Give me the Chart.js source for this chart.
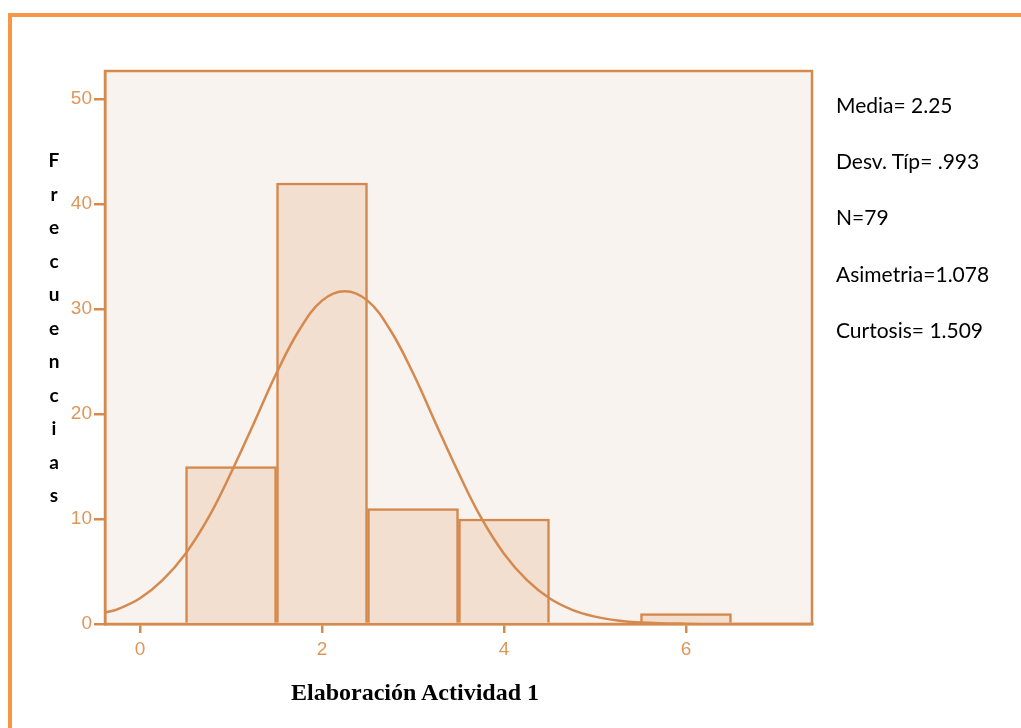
<!DOCTYPE html>
<html>
<head>
<meta charset="utf-8">
<script src="https://cdn.jsdelivr.net/npm/chart.js@4"></script>
<style>
  body { margin: 0; background: #fff; width: 1021px; height: 728px; overflow: hidden; position: relative; }
  #frame { position: absolute; left: 8px; top: 13px; right: 0; bottom: 0; border-top: 4px solid #F79646; border-left: 4px solid #F79646; }
  #chart { position: absolute; left: 0; top: 0; }
  .ytitle { position: absolute; left: 44px; top: 143px; width: 20px; font: bold 19px Lato, sans-serif; text-align: center; line-height: 33.5px; color: #000; }
  .stats { position: absolute; left: 836px; top: 77px; font: 21px Lato, sans-serif; color: #000; line-height: 56.2px; }
  .xtitle { position: absolute; left: 0; width: 830px; top: 677px; text-align: center; font: bold 24px "Liberation Serif", serif; color: #000; line-height: 30px; }
</style>
</head>
<body>
<div id="frame"></div>
<canvas id="chart" width="1021" height="728"></canvas>
<div class="ytitle" id="ytitle"></div>
<div class="stats" id="stats"></div>
<div class="xtitle">Elaboración Actividad 1</div>
<script>
// histogram bins (centres) and their counts
const binCentres = [1, 2, 3, 4, 6];
const frequencies = [15, 42, 11, 10, 1];

// fitted normal curve
const curveX = [-0.385, -0.25, 0, 0.25, 0.5, 0.75, 1, 1.25, 1.5, 1.75, 2, 2.25, 2.5, 2.75, 3, 3.25, 3.5, 3.75, 4, 4.25, 4.5, 4.75, 5, 5.25, 5.5, 6, 6.5, 7.385];
const curveY = [1.1, 1.4, 2.45, 4.2, 6.7, 10.1, 14.4, 19.1, 23.9, 28.0, 30.8, 31.7, 30.8, 28.0, 23.9, 19.1, 14.4, 10.1, 6.7, 4.2, 2.45, 1.35, 0.7, 0.33, 0.15, 0.03, 0, 0];

const xTicks = [0, 2, 4, 6];
const yTicks = [0, 10, 20, 30, 40, 50];

const yTitle = 'Frecuencias';
const statLines = ['Media= 2.25', 'Desv. Típ= .993', 'N=79', 'Asimetria=1.078', 'Curtosis= 1.509'];

document.getElementById('ytitle').innerHTML = yTitle.split('').map(c => '<div>' + c + '</div>').join('');
document.getElementById('stats').innerHTML = statLines.map(s => '<div>' + s + '</div>').join('');

const axisColor = '#D58A4C';
const labelColor = '#DE9659';

const plotBox = {
    id: 'plotBox',
    beforeDraw(chart) {
        const { ctx, chartArea: a } = chart;
        ctx.save();
        ctx.fillStyle = '#F9F3EF';
        ctx.fillRect(a.left, a.top, a.right - a.left, a.bottom - a.top);
        ctx.strokeStyle = axisColor;
        ctx.lineWidth = 2.5;
        ctx.strokeRect(a.left, a.top, a.right - a.left, a.bottom - a.top);
        ctx.restore();
    }
};

new Chart(document.getElementById('chart').getContext('2d'), {
    data: {
        datasets: [{
            type: 'line',
            data: curveX.map((x, i) => ({ x: x, y: curveY[i] })),
            borderColor: '#D5894E',
            borderWidth: 2.5,
            pointRadius: 0,
            tension: 0.4,
            fill: false,
            order: 0
        }, {
            type: 'bar',
            data: binCentres.map((x, i) => ({ x: x, y: frequencies[i] })),
            backgroundColor: '#F2DFD0',
            borderColor: '#D4884C',
            borderWidth: 2.5,
            barPercentage: 1,
            categoryPercentage: 1,
            order: 1
        }]
    },
    options: {
        responsive: false,
        animation: false,
        devicePixelRatio: 1,
        layout: { padding: { left: 65, top: 71, right: 209, bottom: 64 } },
        plugins: { legend: { display: false }, tooltip: { enabled: false } },
        scales: {
            x: {
                type: 'linear',
                offset: false,
                min: -0.385,
                max: 7.385,
                afterBuildTicks: s => { s.ticks = xTicks.map(v => ({ value: v })); },
                afterFit: s => { s.height = 40; },
                grid: { display: true, offset: false, drawOnChartArea: false, drawTicks: true, tickLength: 9, color: axisColor, lineWidth: 2.5 },
                border: { display: true, color: axisColor, width: 2.5 },
                ticks: { color: labelColor, padding: 5, font: { family: 'Liberation Sans', size: 19 } }
            },
            y: {
                type: 'linear',
                min: 0,
                max: 52.67,
                afterBuildTicks: s => { s.ticks = yTicks.map(v => ({ value: v })); },
                afterFit: s => { s.width = 40; },
                grid: { display: true, drawOnChartArea: false, drawTicks: true, tickLength: 11, color: axisColor, lineWidth: 2.5 },
                border: { display: true, color: axisColor, width: 2.5 },
                ticks: { color: labelColor, padding: 2, font: { family: 'Liberation Sans', size: 19 } }
            }
        }
    },
    plugins: [plotBox]
});
</script>
</body>
</html>
